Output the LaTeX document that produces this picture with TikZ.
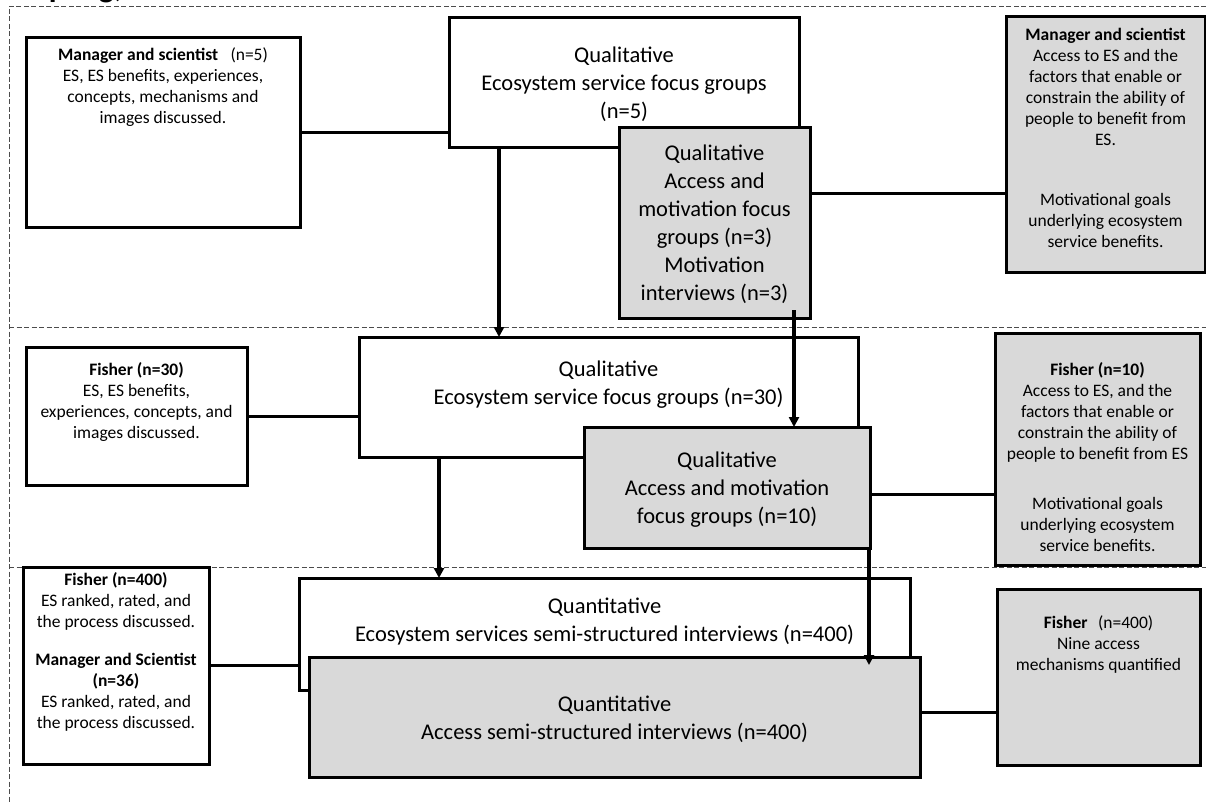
\documentclass[tikz,border=0pt]{standalone}
\usepackage{fontspec}
\setmainfont{Carlito}
\usepackage{xcolor}
\definecolor{boxgray}{RGB}{217,217,217}
\usepackage{tikz}
\usetikzlibrary{arrows.meta}
\newcommand{\mainsize}{\fontsize{22.5}{28}\selectfont}
\newcommand{\sidesize}{\fontsize{17.5}{21}\selectfont}
\newcommand{\boxtext}[5][t]{\parbox[c][#3pt][#1]{#2pt}{\centering\vspace*{#4pt}\strut #5}}

\begin{document}
\begin{tikzpicture}[x=1pt, y=-1pt,
        whitebox/.style={draw, line width=3pt, fill=white, inner sep=0pt, outer sep=0pt, anchor=north west, font=\mainsize},
        graybox/.style={whitebox, fill=boxgray},
        notebox/.style={whitebox, font=\sidesize},
        graynote/.style={notebox, fill=boxgray},
        link/.style={line width=3pt},
        flow/.style={line width=3.5pt, -{Triangle[length=10pt,width=10pt]}},
        sepline/.style={black!70, line width=0.8pt, dash pattern=on 5pt off 2.5pt}]
    \useasboundingbox (0,0) rectangle (1206,803);
    \clip (0,0) rectangle (1206,803);
    \node[anchor=base east, inner sep=0pt, font=\bfseries\fontsize{32}{36}\selectfont] (title) at (123,-2) {Sampling,};
    \draw[sepline] (1206,6) -- (9,6) -- (9,803);
    \foreach \y in {327,567} {
        \draw[sepline] (9,\y) -- (1206,\y);
    }

    \node[notebox] (l1) at (26,37) {\boxtext{274}{190}{9}{\textbf{Manager and scientist}\hspace{0.7em}(n=5)\\ES, ES benefits, experiences,\\concepts, mechanisms and\\images discussed.}};
    \node[whitebox] (q1) at (449,17) {\boxtext[c]{350}{130}{0}{Qualitative\\Ecosystem service focus groups\\(n=5)}};
    \node[graybox] (a1) at (619,127) {\boxtext[c]{191}{191}{0}{Qualitative\\Access and\\motivation focus\\groups (n=3)\\Motivation\\interviews (n=3)}};
    \node[graynote] (r1) at (1006,16) {\boxtext{199}{256}{10}{\textbf{Manager and scientist}\\Access to ES and the\\factors that enable or\\constrain the ability of\\people to benefit from\\ES.\\[39pt]Motivational goals\\underlying ecosystem\\service benefits.}};

    \node[notebox] (l2) at (26,347) {\boxtext{221}{138}{14}{\textbf{Fisher (n=30)}\\ES, ES benefits,\\experiences, concepts, and\\images discussed.}};
    \node[whitebox] (q2) at (359,337) {\boxtext{499}{120}{20}{Qualitative\\Ecosystem service focus groups (n=30)}};
    \node[graybox] (a2) at (584,427) {\boxtext[c]{286}{121}{0}{Qualitative\\Access and motivation\\focus groups (n=10)}};
    \node[graynote] (r2) at (995,333) {\boxtext{205}{232}{28}{\textbf{Fisher (n=10)}\\Access to ES, and the\\factors that enable or\\constrain the ability of\\people to benefit from ES\\[29pt]Motivational goals\\underlying ecosystem\\service benefits.}};

    \node[notebox] (l3) at (23,567) {\boxtext{186}{197}{4}{\textbf{Fisher (n=400)}\\ES ranked, rated, and\\the process discussed.\\[17pt]\textbf{Manager and Scientist}\\\textbf{(n=36)}\\ES ranked, rated, and\\the process discussed.}};
    \node[whitebox] (q3) at (299,578) {\boxtext{611}{112}{16}{Quantitative\\Ecosystem services semi-structured interviews (n=400)}};
    \node[graybox] (a3) at (309,657) {\boxtext[c]{611}{120}{0}{Quantitative\\Access semi-structured interviews (n=400)}};
    \node[graynote] (r3) at (997,589) {\boxtext{203}{176}{25}{\textbf{Fisher}\hspace{0.6em}(n=400)\\Nine access\\mechanisms quantified}};

    \draw[link] (l1.east) -- (l1.east -| q1.west);
    \draw[link] ([yshift=29.5pt]a1.east) -- ([yshift=29.5pt]a1.east -| r1.west);
    \draw[link] (l2.east) -- (l2.east -| q2.west);
    \draw[link] ([yshift=-6.5pt]a2.east) -- ([yshift=-6.5pt]a2.east -| r2.west);
    \draw[link] (l3.east) -- (l3.east -| q3.west);
    \draw[link] ([yshift=5pt]a3.east) -- ([yshift=5pt]a3.east -| r3.west);

    \draw[flow] ([xshift=-125pt]q1.south) -- ([xshift=-125pt]q1.south |- q2.north);
    \draw[flow] ([xshift=79.5pt,yshift=8pt]a1.south) -- ([xshift=79.5pt]a1.south |- a2.north);
    \draw[flow] ([xshift=-169.5pt]q2.south) -- ([xshift=-169.5pt]q2.south |- q3.north);
    \draw[flow, shorten >=-8pt] ([xshift=142pt]a2.south) -- ([xshift=142pt]a2.south |- a3.north);
\end{tikzpicture}
\end{document}
